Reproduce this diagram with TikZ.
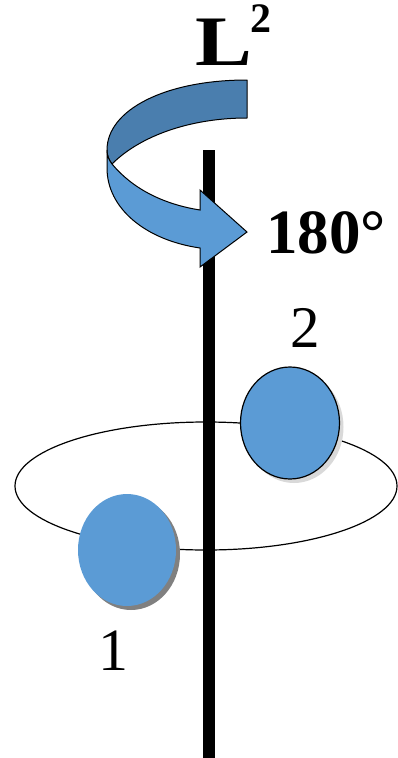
\documentclass[tikz,border=0pt]{standalone}
\usepackage{fontspec}
\usepackage{graphicx}
\setmainfont{Liberation Serif}
\definecolor{ballblue}{HTML}{5B9BD5}
\definecolor{backblue}{HTML}{4A7EAE}
\begin{document}
\begin{tikzpicture}[x=1pt,y=-1pt,
  ballstyle/.style={fill=ballblue},
  outl/.style={draw=black,line width=1pt},
  lbl/.style={inner sep=0pt,outer sep=0pt}]
\useasboundingbox (0,0) rectangle (398,758);
% orbit
\draw[line width=1.2pt] (206,486) ellipse [x radius=191, y radius=64];
% axis
\fill[black] (203,150) rectangle (215,758);
% ball 2
\fill[black!15] (294,427) ellipse [x radius=49.5, y radius=56];
\fill[ballblue] (290,423) ellipse [x radius=49.5, y radius=56];
\draw[line width=1.2pt] (290,423) ellipse [x radius=49.5, y radius=56];
% ball 1
\fill[black!50] (131,554) ellipse [x radius=49, y radius=56];
\fill[ballblue] (127,550) ellipse [x radius=49, y radius=56];
% curved arrow: back band
\filldraw[fill=backblue,line width=1pt,line join=round]
  (247,80) .. controls (165,80) and (107,110) .. (107,150)
  .. controls (107,156) and (109,160) .. (112,164)
  .. controls (140,136) and (190,118) .. (247,118) -- cycle;
% front band with head
\filldraw[fill=ballblue,line width=1pt,line join=miter]
  (112,164) .. controls (132,188) and (162,204) .. (200,210)
  -- (200,190) -- (247,232) -- (200,267) -- (200,248)
  .. controls (145,240) and (107,208) .. (107,168)
  -- (107,150) .. controls (107,156) and (109,160) .. (112,164) -- cycle;
% labels
\node[lbl,anchor=base west,font=\fontsize{71}{80}\selectfont\bfseries] (L) at (195,65) {\scalebox{1.2}[1]{L}};
\node[lbl,anchor=base west,font=\fontsize{42}{48}\selectfont\bfseries] (sq) at ([xshift=-1pt,yshift=33pt]L.base east) {2};
\node[lbl,anchor=base west,font=\fontsize{63}{72}\selectfont\bfseries] (ang) at (266,253) {180°};
\node[lbl,anchor=base,font=\fontsize{59}{68}\selectfont] (two) at (305,347) {2};
\node[lbl,anchor=base,font=\fontsize{60}{68}\selectfont] (one) at (113,670) {1};
\end{tikzpicture}
\end{document}
